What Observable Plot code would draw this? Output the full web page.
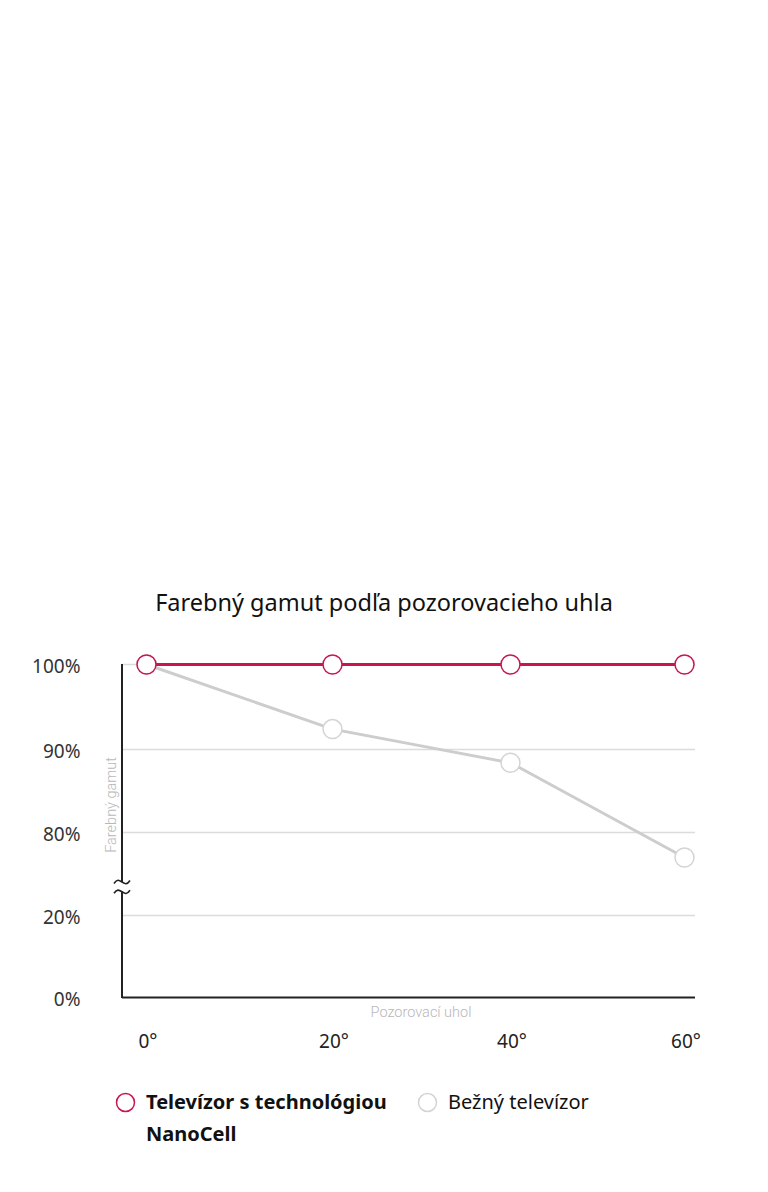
<!DOCTYPE html>
<html><head><meta charset="utf-8">
<script src="https://cdn.jsdelivr.net/npm/d3@7"></script>
<script src="https://cdn.jsdelivr.net/npm/@observablehq/plot@0.6"></script>
<style>
body{margin:0;background:#fff;width:768px;font-family:"Noto Sans",sans-serif;}
#spacer{height:580px}
#title{height:44px;line-height:44px;text-align:center;font-size:23.5px;color:#111;margin:0;font-weight:400}
#chart svg{display:block}
#legend{position:relative;height:128px;}
.item{position:absolute;top:22px;display:flex;align-items:flex-start;font-size:20px;line-height:32px;color:#111}
.item svg{flex:none;margin-top:6px;margin-right:10px}
.item span{display:block}
</style></head><body>
<div id="spacer"></div>
<h2 id="title">Farebný gamut podľa pozorovacieho uhla</h2>
<div id="chart"></div>
<div id="legend"></div>
<script>
// ---- data ----
const angles = [0, 20, 40, 60];
const nanocell = [100, 100, 100, 100];
const conventional = [100, 92.4, 88.4, 77];
const seriesNames = ["Televízor s technológiou NanoCell", "Bežný televízor"];
const yTicks = [0, 20, 80, 90, 100];
const gridTicks = [20, 80, 90, 100];
const axisBreak = [74, 58];
const yTitle = "Farebný gamut";
const xTitle = "Pozorovací uhol";

const red = "#c8164c";
const gray = "#cdcdcd";

const nanoRows = angles.map((a, i) => ({angle: a, value: nanocell[i], series: seriesNames[0]}));
const convRows = angles.map((a, i) => ({angle: a, value: conventional[i], series: seriesNames[1]}));

// broken (piecewise) axes: distortion applied by the scales' transform option
const yWarp = d3.scaleLinear().domain([0, 20, 74, 80, 90, 100]).range([0, 82, 115, 165, 248, 333]);
const xWarp = d3.scaleLinear().domain(angles).range([0, 186, 364, 538]);

function axisLineWithBreak(index, scales, values, dims) {
  const y = v => scales.y(yWarp(v));
  const x0 = dims.marginLeft;
  const g = d3.create("svg:g").attr("fill", "none").attr("stroke", "#222").attr("stroke-width", 2);
  const yTop = y(100), yB1 = y(axisBreak[0]), yB2 = y(axisBreak[1]), yBot = y(0);
  g.append("line").attr("x1", x0).attr("x2", x0).attr("y1", yTop).attr("y2", yB1);
  g.append("line").attr("x1", x0).attr("x2", x0).attr("y1", yB2).attr("y2", yBot + 1);
  for (const yy of [yB1, yB2]) {
    g.append("path")
      .attr("stroke-width", 1.6)
      .attr("d", `M${x0 - 8},${yy + 1.5} C${x0 - 5},${yy - 3} ${x0 - 3},${yy - 2} ${x0},${yy} S${x0 + 5},${yy + 3} ${x0 + 8},${yy - 1.5}`);
  }
  return g.node();
}

const chart = Plot.plot({
  width: 768,
  height: 440,
  marginLeft: 122,
  marginRight: 73,
  marginTop: 40,
  marginBottom: 67,
  style: {fontFamily: "Noto Sans", color: "#333", background: "#fff"},
  x: {transform: xWarp, domain: [0, 538], insetLeft: 24, insetRight: 11},
  y: {transform: yWarp, domain: [0, 333]},
  marks: [
    Plot.ruleY(gridTicks, {stroke: "#dcdcdc", strokeWidth: 1.5}),
    Plot.ruleY([0], {stroke: "#222", strokeWidth: 2}),
    axisLineWithBreak,
    Plot.axisY(yTicks, {tickSize: 0, tickPadding: 42, tickFormat: d => `${d}%`, fontSize: 19, dy: 2, label: null, fill: "#333"}),
    Plot.axisX(angles, {tickSize: 0, tickPadding: 37, tickFormat: d => `${d}°`, fontSize: 19, dx: 1.5, label: null, fill: "#222"}),
    Plot.text([yTitle], {frameAnchor: "left", textAnchor: "middle", lineAnchor: "middle", rotate: -90, dx: -11, dy: -26, fontSize: 14.5, fill: "#b8b8b8", fontWeight: 300, fontFamily: "Roboto"}),
    Plot.text([xTitle], {frameAnchor: "bottom", textAnchor: "middle", lineAnchor: "middle", dx: 12, dy: 15, fontSize: 14.5, fill: "#b8b8b8", fontWeight: 300, fontFamily: "Roboto"}),
    Plot.line(convRows, {x: "angle", y: "value", stroke: gray, strokeWidth: 3}),
    Plot.dot(convRows, {x: "angle", y: "value", r: 9.5, fill: "white", stroke: "#d4d4d4", strokeWidth: 1.5}),
    Plot.line(nanoRows, {x: "angle", y: "value", stroke: red, strokeWidth: 3}),
    Plot.dot(nanoRows, {x: "angle", y: "value", r: 9.5, fill: "white", stroke: red, strokeWidth: 1.5})
  ]
});
document.getElementById("chart").appendChild(chart);

// ---- legend ----
const legend = document.getElementById("legend");
const legendItems = [
  {name: seriesNames[0], stroke: red, bold: true, left: 115, width: 270},
  {name: seriesNames[1], stroke: "#d4d4d4", bold: false, left: 417, width: 300}
];
for (const it of legendItems) {
  const d = document.createElement("div");
  d.className = "item";
  d.style.left = it.left + "px";
  d.innerHTML = `<svg width="21" height="21"><circle cx="10.5" cy="10.5" r="9" fill="white" stroke="${it.stroke}" stroke-width="1.5"/></svg><span style="width:${it.width}px;font-weight:${it.bold ? 700 : 400}">${it.name}</span>`;
  legend.appendChild(d);
}
</script>
</body></html>
